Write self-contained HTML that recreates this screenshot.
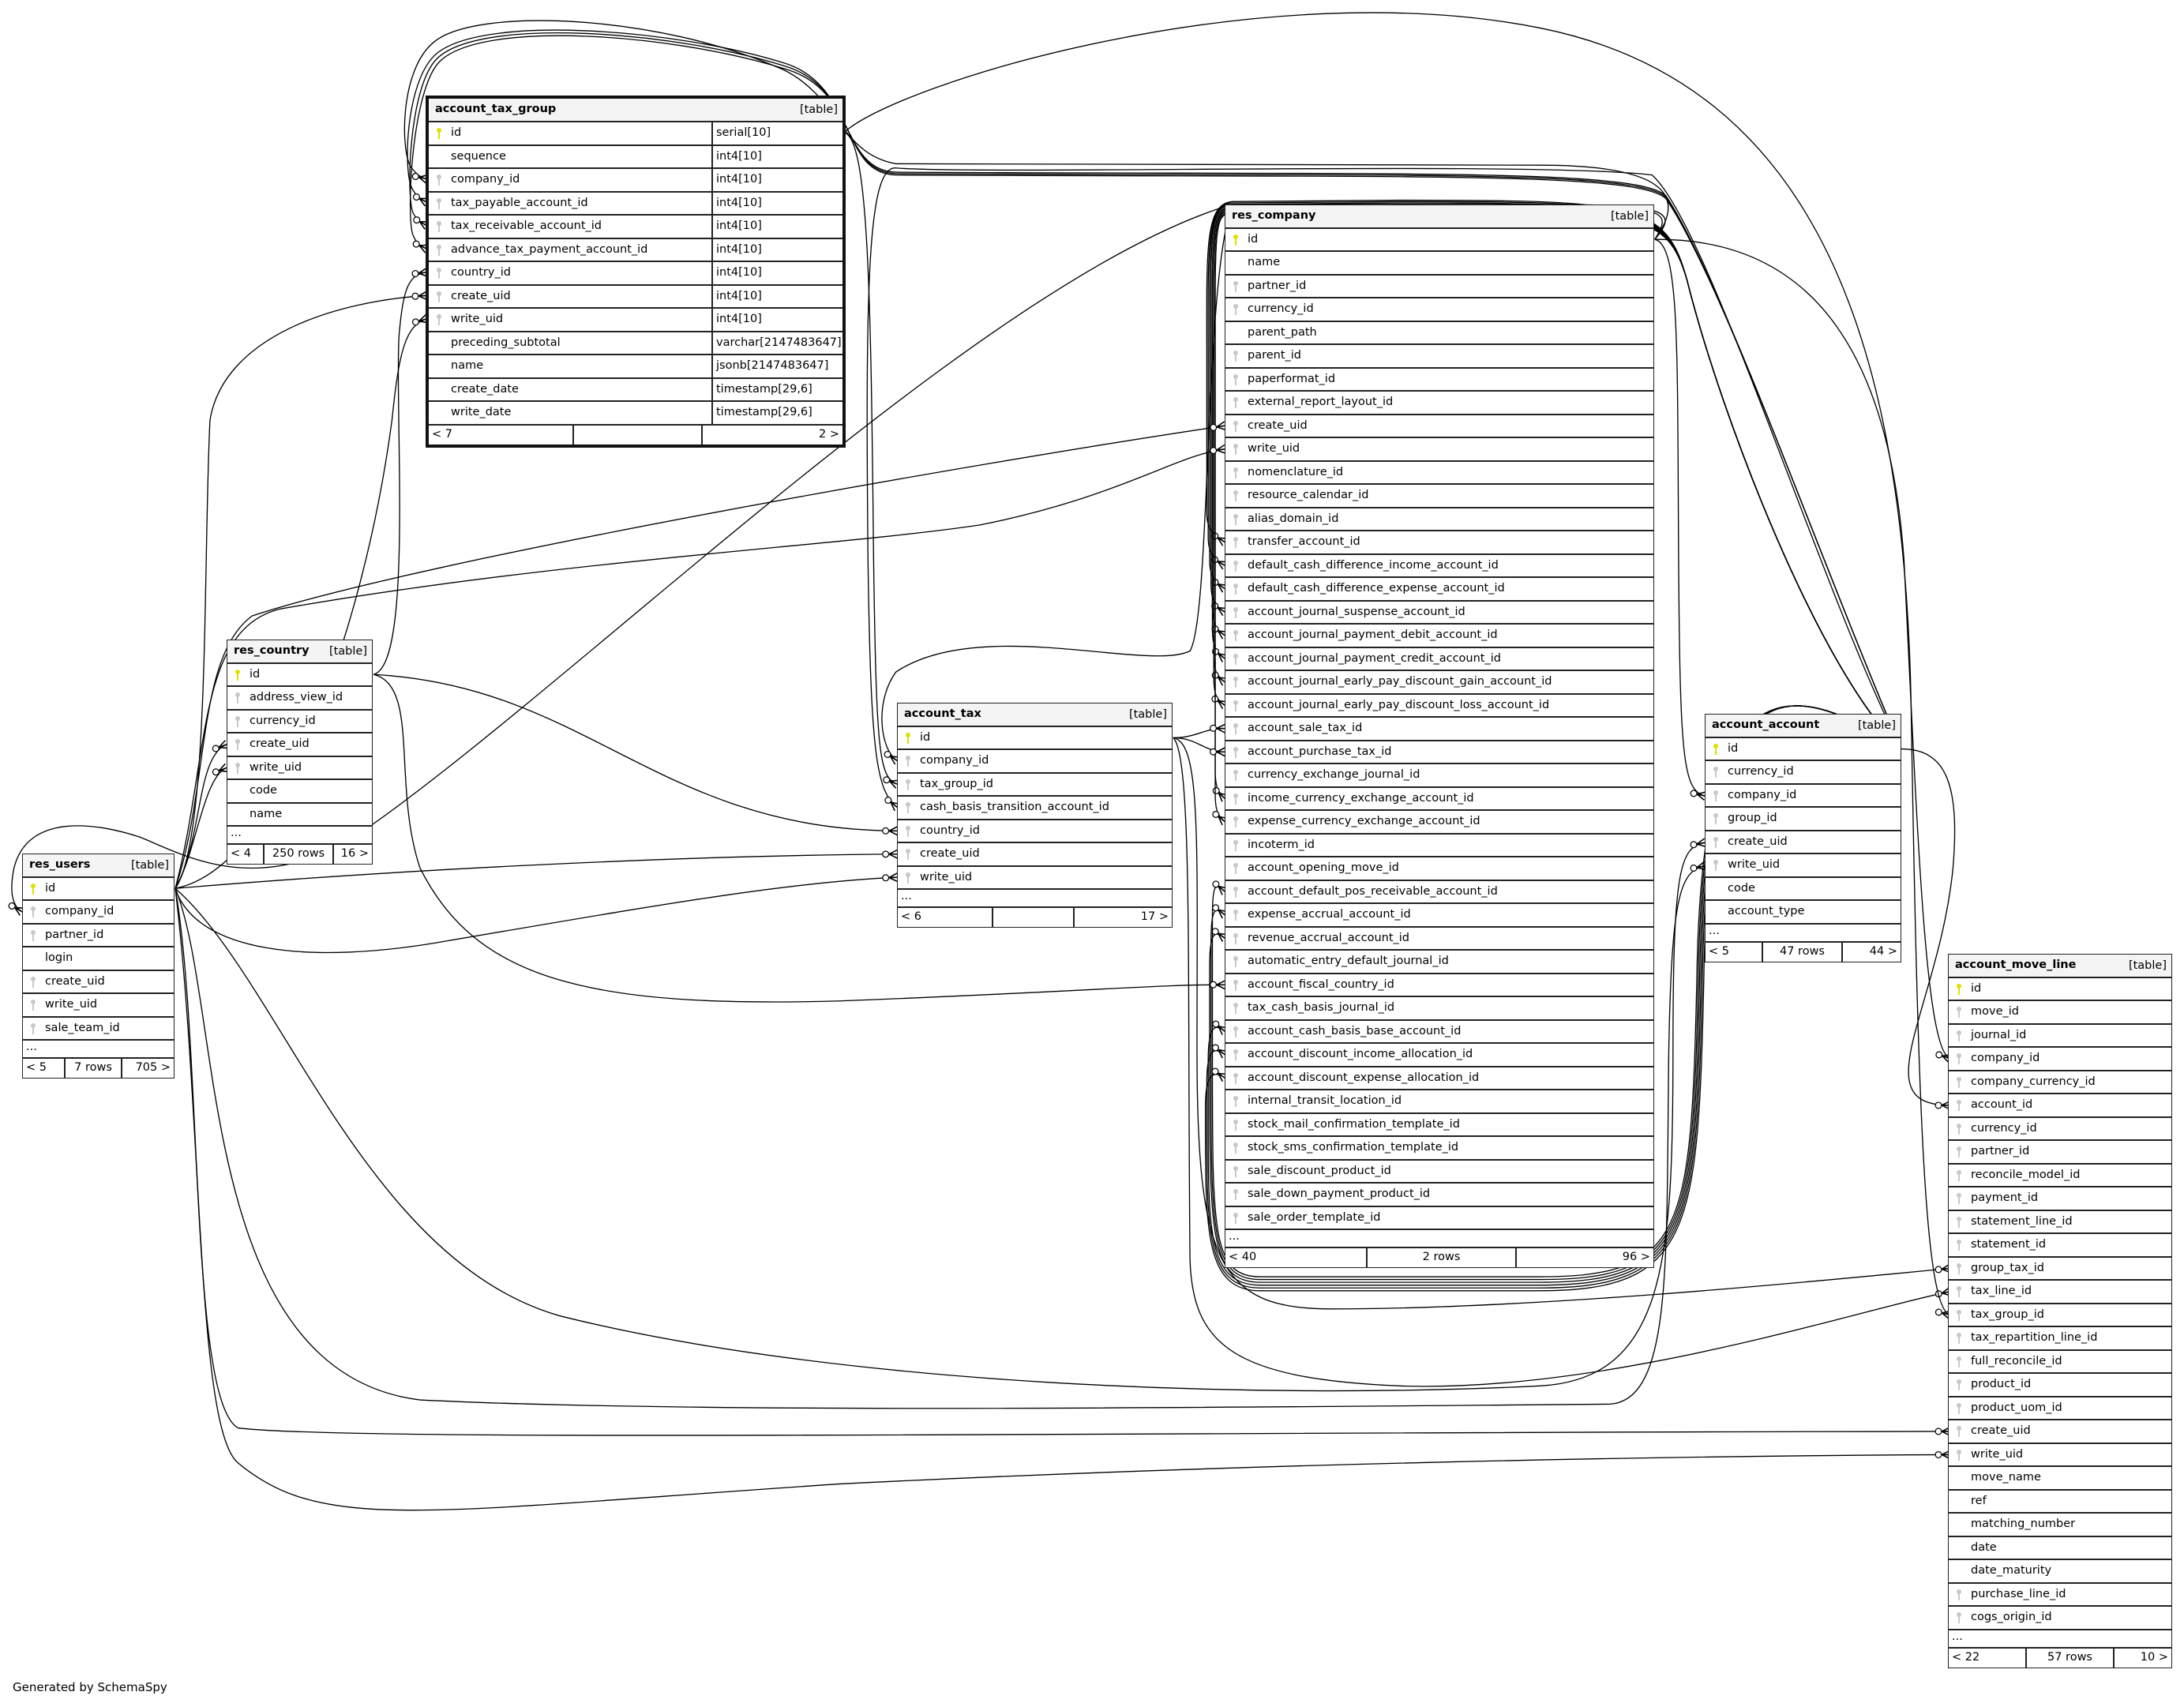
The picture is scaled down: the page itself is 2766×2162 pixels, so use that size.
<!DOCTYPE html>
<html><head><meta charset="utf-8">
<style>
html,body{margin:0;padding:0;background:#fff}
body{width:2766px;height:2162px;position:relative;overflow:hidden}
svg.e{position:absolute;left:0;top:0}
.t{position:absolute;background:#fff;border:1.5px solid #222;font:14.5px "DejaVu Sans","Liberation Sans",sans-serif;color:#000}
.t.b{border:4px solid #111}
.h{height:29.5px;box-sizing:border-box;background:#f4f4f4;border-bottom:2px solid #222;position:relative;line-height:27px;padding-left:8px;font-weight:bold}
.h span{position:absolute;right:6px;top:1px;font-weight:normal}
.r{height:29.5px;box-sizing:border-box;border-bottom:2px solid #222;line-height:27px;padding-left:28px;position:relative;white-space:nowrap}
.r .c2{position:absolute;left:358px;top:0;bottom:0;border-left:2px solid #222;padding-left:4px}
.d{height:23px;box-sizing:border-box;border-bottom:2px solid #222;line-height:16px;padding-left:4px}
.f{height:24px;display:flex;line-height:22px}
.f div{box-sizing:border-box;padding:0 4px;white-space:nowrap}
.f div+div{border-left:2px solid #222}
.k{position:absolute;left:10px;top:7px;width:6px;height:6px;border-radius:50%;background:#c8c8c8}
.k::after{content:"";position:absolute;left:2px;top:5px;width:2px;height:9px;background:#c8c8c8}
.k.p,.k.p::after{background:#e0e000}
.gen{position:absolute;left:16px;top:2128px;font:15px "DejaVu Sans","Liberation Sans",sans-serif}
</style></head><body>

<svg class="e" width="2766" height="2162" viewBox="0 0 1560 1219.35">
<defs>
<marker id="cf" markerUnits="userSpaceOnUse" markerWidth="16" markerHeight="10" refX="12" refY="5" orient="auto" viewBox="0 0 16 10">
<path d="M6,5 L12,2 M6,5 L12,5 M6,5 L12,8" stroke="#000" stroke-width="0.9" fill="none"/>
<circle cx="3.6" cy="5" r="2.2" fill="#fff" stroke="#000" stroke-width="0.7"/>
</marker>
</defs>
<g fill="none" stroke="#000" stroke-width="0.75" marker-end="url(#cf)">
<path d="M1358,535 C1300,480 1230,300 1205,200 C1190,145 1170,143 1000,143 L880,144 C860,146 862,180 862,260 L862,367 C862,379 868,383 875,387.3"/>
<path d="M1358,535 C1300,480 1230,300 1205,200 C1190,145 1170,144 1000,144 L879,145 C861,147 863,180 863,260 L863,384 C863,396 868,400 875,404"/>
<path d="M1358,535 C1300,480 1230,300 1205,200 C1190,146 1170,145 1000,145 L878,146 C862,148 864,180 864,260 L864,400 C864,412 868,416 875,420.6"/>
<path d="M1358,535 C1300,480 1230,300 1205,200 C1190,146 1170,146 1000,146 L877,147 C863,149 865,180 865,260 L865,417 C865,429 868,433 875,437.2"/>
<path d="M1358,535 C1300,480 1230,300 1205,200 C1190,147 1170,147 1000,147 L877,148 C864,150 866,180 866,260 L866,434 C866,446 869,450 875,453.9"/>
<path d="M1358,535 C1300,480 1230,300 1205,200 C1190,147 1170,148 1000,148 L876,149 C865,151 866,180 866,260 L866,450 C866,462 869,466 875,470.5"/>
<path d="M1358,535 C1300,480 1230,300 1205,200 C1190,148 1170,149 1000,149 L876,150 C866,152 867,180 867,260 L867,467 C867,479 869,483 875,487.2"/>
<path d="M1358,535 C1300,480 1230,300 1205,200 C1190,148 1170,150 1000,150 L876,151 C866,153 867,180 867,260 L867,484 C867,496 869,500 875,503.8"/>
<path d="M1358,535 C1300,480 1230,300 1205,200 C1190,149 1170,151 1000,151 L876,152 C867,154 868,180 868,260 L868,550 C868,562 870,566 875,570.4"/>
<path d="M1358,535 C1300,480 1230,300 1205,200 C1190,149 1170,152 1000,152 L876,153 C867,155 868,180 868,260 L868,567 C868,579 870,583 875,587"/>
<path d="M1358,535 C1260,470 1215,500 1212,700 C1208,880 1203,912 1100,912 L900,912 C866,912 866,880 866,760 L866,655 C866,628 869,632 875,636.9"/>
<path d="M1358,535 C1260,470 1216,500 1213,700 C1209,880 1204,914 1100,914 L900,914 C865,914 865,880 865,760 L865,673 C865,645 869,649 875,653.6"/>
<path d="M1358,535 C1260,470 1217,500 1214,700 C1210,880 1205,916 1100,916 L900,916 C864,916 864,880 864,760 L864,690 C864,662 869,666 875,670.2"/>
<path d="M1358,535 C1260,470 1218,500 1215,700 C1211,880 1206,918 1100,918 L900,918 C863,918 863,880 863,800 L863,757 C863,730 869,732 875,736.8"/>
<path d="M1358,535 C1260,470 1219,500 1216,700 C1212,880 1207,920 1100,920 L900,920 C862,920 862,880 862,800 L862,773 C862,746 869,749 875,753.4"/>
<path d="M1358,535 C1260,470 1220,500 1217,700 C1213,880 1208,922 1100,922 L900,922 C861,922 861,880 861,800 L861,790 C861,763 869,766 875,770"/>
<path d="M1358,535 C1300,400 1230,200 1190,140 C1170,120 1000,125 640,123 C600,122 610,60 560,45 C480,20 340,10 310,40 C290,60 288,120 294,134 C297,140 300,142 305,144.5"/>
<path d="M1358,535 C1300,400 1230,200 1190,141 C1170,121 1000,126 640,124 C600,123 612,62 560,47 C480,22 342,12 312,42 C292,62 290,140 295,152 C298,158 301,159 305,161.2"/>
<path d="M1358,535 C1300,400 1230,200 1190,142 C1170,122 1000,127 640,125 C600,124 614,64 560,49 C480,24 344,14 314,44 C294,64 290,155 295,168 C298,175 301,176 305,177.8"/>
<path d="M1358,535 C1300,420 1220,160 1180,125 C1100,115 700,125 640,120 C620,118 618,200 620,400 C622,540 626,565 641,576.8"/>
<path d="M1358,535 C1390,535 1400,560 1395,620 C1385,720 1330,790 1393,789.5"/>
<path d="M1182,171 C1200,175 1198,250 1199,400 C1200,540 1202,565 1218,568.6"/>
<path d="M1182,171 C1300,170 1350,260 1360,400 C1370,600 1375,750 1393,756.2"/>
<path d="M1182,171 C1195,150 1190,148 1100,146 L880,146 C700,200 400,500 250,600 C180,640 130,610 100,598 C70,588 20,580 10,620 C6,640 10,648 15.8,651.3"/>
<path d="M1182,171 C1205,140 1190,118 1100,118 L640,117 C600,110 600,70 560,50 C470,10 340,5 310,30 C285,50 286,110 294,120 C298,125 301,127 305,127.9"/>
<path d="M1182,171 C1200,150 1190,146 1100,146 L880,147 C860,200 865,440 850,465 C820,480 700,440 640,480 C625,500 628,535 641,543.5"/>
<path d="M838,527 C855,527 860,520 875,520.4"/>
<path d="M838,527 C855,527 860,537 875,537.1"/>
<path d="M838,527 C858,530 855,600 855,750 C855,900 870,935 950,935 C1100,935 1300,915 1393,906"/>
<path d="M838,527 C852,540 848,700 850,900 C852,960 880,985 1000,990 C1150,995 1330,935 1393,922.6"/>
<path d="M603,94.6 C620,100 622,200 624,400 C626,540 628,555 641,560.2"/>
<path d="M603,94.6 C640,60 900,-20 1100,20 C1300,60 1360,250 1365,500 C1370,800 1375,935 1393,939.3"/>
<path d="M266.8,481.8 C295,475 282,300 285,240 C288,205 292,196 305,194.5"/>
<path d="M266.8,481.8 C420,490 470,593 641,593.5"/>
<path d="M266.8,481.8 C300,490 280,560 300,620 C340,700 420,720 600,715 C780,708 830,703 875,703.5"/>
<path d="M125.2,634.6 C150,600 145,400 150,300 C160,240 240,215 305,211.1"/>
<path d="M125.2,634.6 C200,620 260,450 280,300 C285,250 290,232 305,227.7"/>
<path d="M125.2,634.6 C145,600 140,540 162,531.7"/>
<path d="M125.2,634.6 C140,610 145,555 162,548.4"/>
<path d="M125.2,634.6 C300,620 500,611 641,610.1"/>
<path d="M125.2,634.6 C140,680 220,690 320,672 C450,650 560,630 641,626.7"/>
<path d="M125.2,634.6 C150,560 140,470 180,440 C300,400 700,330 875,304.1"/>
<path d="M125.2,634.6 C150,540 140,450 200,435 C400,400 600,390 700,375 C800,355 840,325 875,320.8"/>
<path d="M125.2,634.6 C200,700 260,900 400,940 C600,990 900,1000 1100,990 C1190,985 1195,900 1195,750 C1195,620 1200,605 1218,601.9"/>
<path d="M125.2,634.6 C160,720 140,980 300,1000 C500,1010 900,1005 1150,1003 C1195,1000 1190,900 1192,750 C1194,640 1200,622 1218,618.5"/>
<path d="M125.2,634.6 C145,750 135,1000 170,1020 C250,1030 800,1023 1393,1022.5"/>
<path d="M125.2,634.6 C145,800 140,1020 170,1045 C230,1095 300,1080 600,1060 C900,1045 1200,1040 1393,1039.1"/>
</g>
</svg>

<div class="t b" style="left:539px;top:121px;width:524px">
<div class="h" style="height:30px">account_tax_group<span>[table]</span></div>
<div class="r"><i class="k p"></i>id<span class="c2">serial[10]</span></div>
<div class="r">sequence<span class="c2">int4[10]</span></div>
<div class="r"><i class="k"></i>company_id<span class="c2">int4[10]</span></div>
<div class="r"><i class="k"></i>tax_payable_account_id<span class="c2">int4[10]</span></div>
<div class="r"><i class="k"></i>tax_receivable_account_id<span class="c2">int4[10]</span></div>
<div class="r"><i class="k"></i>advance_tax_payment_account_id<span class="c2">int4[10]</span></div>
<div class="r"><i class="k"></i>country_id<span class="c2">int4[10]</span></div>
<div class="r"><i class="k"></i>create_uid<span class="c2">int4[10]</span></div>
<div class="r"><i class="k"></i>write_uid<span class="c2">int4[10]</span></div>
<div class="r">preceding_subtotal<span class="c2">varchar[2147483647]</span></div>
<div class="r">name<span class="c2">jsonb[2147483647]</span></div>
<div class="r">create_date<span class="c2">timestamp[29,6]</span></div>
<div class="r">write_date<span class="c2">timestamp[29,6]</span></div>
<div class="f"><div style="width:182px">&lt; 7</div><div style="width:163px"></div><div style="flex:1;text-align:right">2 &gt;</div></div>
</div>

<div class="t" style="left:1551px;top:259px;width:542px">
<div class="h">res_company<span>[table]</span></div>
<div class="r"><i class="k p"></i>id</div>
<div class="r">name</div>
<div class="r"><i class="k"></i>partner_id</div>
<div class="r"><i class="k"></i>currency_id</div>
<div class="r">parent_path</div>
<div class="r"><i class="k"></i>parent_id</div>
<div class="r"><i class="k"></i>paperformat_id</div>
<div class="r"><i class="k"></i>external_report_layout_id</div>
<div class="r"><i class="k"></i>create_uid</div>
<div class="r"><i class="k"></i>write_uid</div>
<div class="r"><i class="k"></i>nomenclature_id</div>
<div class="r"><i class="k"></i>resource_calendar_id</div>
<div class="r"><i class="k"></i>alias_domain_id</div>
<div class="r"><i class="k"></i>transfer_account_id</div>
<div class="r"><i class="k"></i>default_cash_difference_income_account_id</div>
<div class="r"><i class="k"></i>default_cash_difference_expense_account_id</div>
<div class="r"><i class="k"></i>account_journal_suspense_account_id</div>
<div class="r"><i class="k"></i>account_journal_payment_debit_account_id</div>
<div class="r"><i class="k"></i>account_journal_payment_credit_account_id</div>
<div class="r"><i class="k"></i>account_journal_early_pay_discount_gain_account_id</div>
<div class="r"><i class="k"></i>account_journal_early_pay_discount_loss_account_id</div>
<div class="r"><i class="k"></i>account_sale_tax_id</div>
<div class="r"><i class="k"></i>account_purchase_tax_id</div>
<div class="r"><i class="k"></i>currency_exchange_journal_id</div>
<div class="r"><i class="k"></i>income_currency_exchange_account_id</div>
<div class="r"><i class="k"></i>expense_currency_exchange_account_id</div>
<div class="r"><i class="k"></i>incoterm_id</div>
<div class="r"><i class="k"></i>account_opening_move_id</div>
<div class="r"><i class="k"></i>account_default_pos_receivable_account_id</div>
<div class="r"><i class="k"></i>expense_accrual_account_id</div>
<div class="r"><i class="k"></i>revenue_accrual_account_id</div>
<div class="r"><i class="k"></i>automatic_entry_default_journal_id</div>
<div class="r"><i class="k"></i>account_fiscal_country_id</div>
<div class="r"><i class="k"></i>tax_cash_basis_journal_id</div>
<div class="r"><i class="k"></i>account_cash_basis_base_account_id</div>
<div class="r"><i class="k"></i>account_discount_income_allocation_id</div>
<div class="r"><i class="k"></i>account_discount_expense_allocation_id</div>
<div class="r"><i class="k"></i>internal_transit_location_id</div>
<div class="r"><i class="k"></i>stock_mail_confirmation_template_id</div>
<div class="r"><i class="k"></i>stock_sms_confirmation_template_id</div>
<div class="r"><i class="k"></i>sale_discount_product_id</div>
<div class="r"><i class="k"></i>sale_down_payment_product_id</div>
<div class="r"><i class="k"></i>sale_order_template_id</div>
<div class="d">...</div>
<div class="f"><div style="width:178px">&lt; 40</div><div style="width:189px;text-align:center">2 rows</div><div style="flex:1;text-align:right">96 &gt;</div></div>
</div>

<div class="t" style="left:28px;top:1081px;width:191px">
<div class="h">res_users<span>[table]</span></div>
<div class="r"><i class="k p"></i>id</div>
<div class="r"><i class="k"></i>company_id</div>
<div class="r"><i class="k"></i>partner_id</div>
<div class="r">login</div>
<div class="r"><i class="k"></i>create_uid</div>
<div class="r"><i class="k"></i>write_uid</div>
<div class="r"><i class="k"></i>sale_team_id</div>
<div class="d">...</div>
<div class="f"><div style="width:52px">&lt; 5</div><div style="width:72px;text-align:center">7 rows</div><div style="flex:1;text-align:right">705 &gt;</div></div>
</div>

<div class="t" style="left:287px;top:810px;width:183px">
<div class="h">res_country<span>[table]</span></div>
<div class="r"><i class="k p"></i>id</div>
<div class="r"><i class="k"></i>address_view_id</div>
<div class="r"><i class="k"></i>currency_id</div>
<div class="r"><i class="k"></i>create_uid</div>
<div class="r"><i class="k"></i>write_uid</div>
<div class="r">code</div>
<div class="r">name</div>
<div class="d">...</div>
<div class="f"><div style="width:45px">&lt; 4</div><div style="width:88px;text-align:center">250 rows</div><div style="flex:1;text-align:right">16 &gt;</div></div>
</div>

<div class="t" style="left:1136px;top:890px;width:347px">
<div class="h">account_tax<span>[table]</span></div>
<div class="r"><i class="k p"></i>id</div>
<div class="r"><i class="k"></i>company_id</div>
<div class="r"><i class="k"></i>tax_group_id</div>
<div class="r"><i class="k"></i>cash_basis_transition_account_id</div>
<div class="r"><i class="k"></i>country_id</div>
<div class="r"><i class="k"></i>create_uid</div>
<div class="r"><i class="k"></i>write_uid</div>
<div class="d">...</div>
<div class="f"><div style="width:119px">&lt; 6</div><div style="width:103px"></div><div style="flex:1;text-align:right">17 &gt;</div></div>
</div>

<div class="t" style="left:2159px;top:904px;width:247px">
<div class="h">account_account<span>[table]</span></div>
<div class="r"><i class="k p"></i>id</div>
<div class="r"><i class="k"></i>currency_id</div>
<div class="r"><i class="k"></i>company_id</div>
<div class="r"><i class="k"></i>group_id</div>
<div class="r"><i class="k"></i>create_uid</div>
<div class="r"><i class="k"></i>write_uid</div>
<div class="r">code</div>
<div class="r">account_type</div>
<div class="d">...</div>
<div class="f"><div style="width:71px">&lt; 5</div><div style="width:101px;text-align:center">47 rows</div><div style="flex:1;text-align:right">44 &gt;</div></div>
</div>

<div class="t" style="left:2467px;top:1208px;width:282px">
<div class="h">account_move_line<span>[table]</span></div>
<div class="r"><i class="k p"></i>id</div>
<div class="r"><i class="k"></i>move_id</div>
<div class="r"><i class="k"></i>journal_id</div>
<div class="r"><i class="k"></i>company_id</div>
<div class="r"><i class="k"></i>company_currency_id</div>
<div class="r"><i class="k"></i>account_id</div>
<div class="r"><i class="k"></i>currency_id</div>
<div class="r"><i class="k"></i>partner_id</div>
<div class="r"><i class="k"></i>reconcile_model_id</div>
<div class="r"><i class="k"></i>payment_id</div>
<div class="r"><i class="k"></i>statement_line_id</div>
<div class="r"><i class="k"></i>statement_id</div>
<div class="r"><i class="k"></i>group_tax_id</div>
<div class="r"><i class="k"></i>tax_line_id</div>
<div class="r"><i class="k"></i>tax_group_id</div>
<div class="r"><i class="k"></i>tax_repartition_line_id</div>
<div class="r"><i class="k"></i>full_reconcile_id</div>
<div class="r"><i class="k"></i>product_id</div>
<div class="r"><i class="k"></i>product_uom_id</div>
<div class="r"><i class="k"></i>create_uid</div>
<div class="r"><i class="k"></i>write_uid</div>
<div class="r">move_name</div>
<div class="r">ref</div>
<div class="r">matching_number</div>
<div class="r">date</div>
<div class="r">date_maturity</div>
<div class="r"><i class="k"></i>purchase_line_id</div>
<div class="r"><i class="k"></i>cogs_origin_id</div>
<div class="d">...</div>
<div class="f"><div style="width:97px">&lt; 22</div><div style="width:111px;text-align:center">57 rows</div><div style="flex:1;text-align:right">10 &gt;</div></div>
</div>

<div class="gen">Generated by SchemaSpy</div>
</body></html>
